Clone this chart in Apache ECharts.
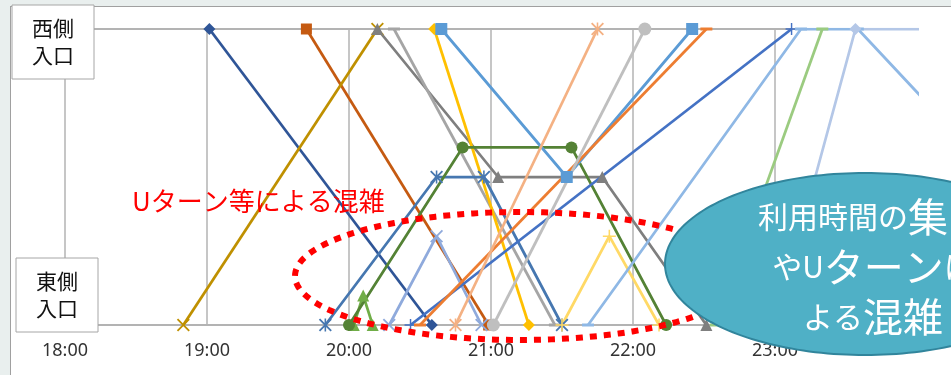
<!DOCTYPE html>
<html><head><meta charset="utf-8">
<script src="https://cdn.jsdelivr.net/npm/echarts@6/dist/echarts.min.js"></script>
<style>
html,body{margin:0;padding:0;width:951px;height:375px;overflow:hidden;background:#E9EFEE;}
#frame{position:absolute;left:10px;top:6px;width:980px;height:420px;background:#fff;border-left:1px solid #A0A0A0;border-top:1px solid #A0A0A0;}
#chart{position:absolute;left:0;top:0;width:951px;height:375px;}
</style></head><body><div id="frame"></div><div id="chart"></div>
<script>
// tick labels
const xTickLabels = ['18:00','19:00','20:00','21:00','22:00','23:00'];
const yTickLabels = ['東側\n入口','西側\n入口'];
// annotations
const noteText = 'Uターン等による混雑';
const calloutText = '{s|利用時間の}{b|集中}\n{s|やU}{b|ターン}{s|に}\n{s|よる}{b|混雑}';

// each trip: [time, position]  position 0 = 東側入口, 1 = 西側入口
const s01 = [['19:01',1],['20:35',0]];
const s02 = [['19:42',1],['20:59',0]];
const s03 = [['18:50',0],['20:12',1]];
const s04 = [['20:12',1],['21:03',0.5],['21:47',0.5],['22:31',0]];
const s05 = [['20:19',1],['21:27',0]];
const s06 = [['20:36',1],['21:16',0]];
const s07 = [['20:39',1],['21:32',0.5],['22:25',1]];
const s08 = [['20:00',0],['20:48',0.6],['21:34',0.6],['22:14',0]];
const s09 = [['20:02',0],['20:06',0.1],['20:10',0]];
const s10 = [['19:50',0],['20:37',0.5],['20:57',0.5],['21:30',0]];
const s11 = [['20:17',0],['20:37',0.3],['20:56',0]];
const s12 = [['20:26',0],['23:07',1]];
const s13 = [['20:30',0],['22:31',1]];
const s14 = [['20:45',0],['21:45',1]];
const s15 = [['21:01',0],['22:05',1]];
const s16 = [['21:30',0],['21:50',0.3],['22:11',0]];
const s17 = [['21:41',0],['23:11',1],['23:35',1],['25:32',0]];
const s18 = [['22:35',0],['23:20',1]];
const s19 = [['23:00',0],['23:34',1],['24:30',1]];

const trips = [s01,s02,s03,s04,s05,s06,s10,s11,s09,s08,s07,s12,s13,s14,s15,s16,s17,s18,s19];

const SYM_X = 'path://M0,1L1,0L5,4L9,0L10,1L6,5L10,9L9,10L5,6L1,10L0,9L4,5Z';
const SYM_PLUS = 'path://M4.4,0H5.6V4.4H10V5.6H5.6V10H4.4V5.6H0V4.4H4.4Z';
const SYM_AST = 'path://M0,1L1,0L5,4L9,0L10,1L6,5L10,9L9,10L5,6L1,10L0,9L4,5Z M4.4,0H5.6V10H4.4Z';
const SYM_DASH = 'path://M0,0H10V2H0Z';

const styles = [
  {color:'#2F5597', symbol:'diamond', size:12},
  {color:'#C55A11', symbol:'rect', size:11},
  {color:'#BF9000', symbol:SYM_X, size:13},
  {color:'#7F7F7F', symbol:'triangle', size:12},
  {color:'#A5A5A5', symbol:SYM_DASH, size:[12,3]},
  {color:'#FFC000', symbol:'diamond', size:12},
  {color:'#4677B0', symbol:SYM_AST, size:13},
  {color:'#8FAADC', symbol:SYM_X, size:13},
  {color:'#70AD47', symbol:'triangle', size:12},
  {color:'#548235', symbol:'circle', size:12},
  {color:'#5B9BD5', symbol:'rect', size:12},
  {color:'#4472C4', symbol:SYM_PLUS, size:12},
  {color:'#ED7D31', symbol:SYM_DASH, size:[12,3]},
  {color:'#F4B183', symbol:SYM_AST, size:13},
  {color:'#BFBFBF', symbol:'circle', size:13},
  {color:'#FFD966', symbol:SYM_PLUS, size:13},
  {color:'#8FB8E5', symbol:SYM_DASH, size:[12,3]},
  {color:'#9BCB80', symbol:SYM_DASH, size:[12,3]},
  {color:'#B4C7E7', symbol:'diamond', size:12}
];

function toHours(t){ const p = t.split(':').map(Number); return p[0] + p[1]/60; }
function ellipsePts(cx,cy,rx,ry,n){ const a=[]; for(let i=0;i<n;i++){const t=2*Math.PI*i/n; a.push([cx+rx*Math.cos(t), cy+ry*Math.sin(t)]);} return a; }

const FONT_JP = '"Noto Sans CJK JP","Noto Sans",sans-serif';
const chart = echarts.init(document.getElementById('chart'));

const series = trips.map((d,i)=>({
  type:'line', name:'trip'+(i+1),
  data: d.map(p=>[toHours(p[0]), p[1]]),
  symbol: styles[i].symbol, symbolSize: styles[i].size, showSymbol:true, showAllSymbol:true,
  lineStyle:{color:styles[i].color, width:2.75},
  itemStyle:{color:styles[i].color},
  clip:true, silent:true, animation:false
}));

chart.setOption({
  animation:false,
  backgroundColor:'transparent',
  grid:{left:65, right:34, top:29, bottom:50},
  xAxis:{type:'value', min:18, max:24, interval:1,
    axisLine:{show:false}, axisTick:{show:false},
    splitLine:{show:true, showMaxLine:false, lineStyle:{color:'#B3B3B3', width:1.5}},
    axisLabel:{formatter:v=>xTickLabels[Math.round(v-18)]||'', color:'#333333', fontSize:18, fontFamily:'"Noto Sans",sans-serif', margin:17, showMaxLabel:false}},
  yAxis:{type:'value', min:0, max:1, interval:1,
    axisLine:{show:false}, axisTick:{show:false}, axisLabel:{show:false},
    splitLine:{show:true, lineStyle:{color:'#B3B3B3', width:2}}},
  series: series
});

const yTop = chart.convertToPixel({yAxisIndex:0}, 1);
const yBot = chart.convertToPixel({yAxisIndex:0}, 0);

chart.setOption({
  graphic:[
    {type:'rect', z:50, shape:{x:12, y:yTop-24, width:82, height:74}, style:{fill:'#fff', stroke:'#A6A6A6', lineWidth:1}},
    {type:'text', z:51, style:{text:yTickLabels[1], x:53, y:yTop+13, align:'center', verticalAlign:'middle', fontSize:21, lineHeight:27, fontFamily:FONT_JP, fill:'#111'}},
    {type:'rect', z:50, shape:{x:16, y:yBot-67, width:82, height:74}, style:{fill:'#fff', stroke:'#A6A6A6', lineWidth:1}},
    {type:'text', z:51, style:{text:yTickLabels[0], x:57, y:yBot-30, align:'center', verticalAlign:'middle', fontSize:21, lineHeight:27, fontFamily:FONT_JP, fill:'#111'}},
    {type:'text', z:60, style:{text:noteText, x:132, y:201, align:'left', verticalAlign:'middle', fontSize:26, fontFamily:FONT_JP, fill:'#FF0000'}},
    {type:'polygon', z:70, shape:{points:ellipsePts(520,276,225,64,180)}, style:{fill:'none', stroke:'#FF0000', lineWidth:6, lineDash:[7,7]}},
    {type:'polygon', z:80, shape:{points:ellipsePts(865,264,200,91,200)}, style:{fill:'#4FB0C6', stroke:'#31859C', lineWidth:2}},
    {type:'text', z:90, style:{text:calloutText, x:873, y:267, align:'center', verticalAlign:'middle', fill:'#fff',
      rich:{s:{fontSize:30, lineHeight:50, fill:'#fff', fontFamily:FONT_JP}, b:{fontSize:40, lineHeight:50, fill:'#fff', fontFamily:FONT_JP}}}}
  ]
});
</script></body></html>
